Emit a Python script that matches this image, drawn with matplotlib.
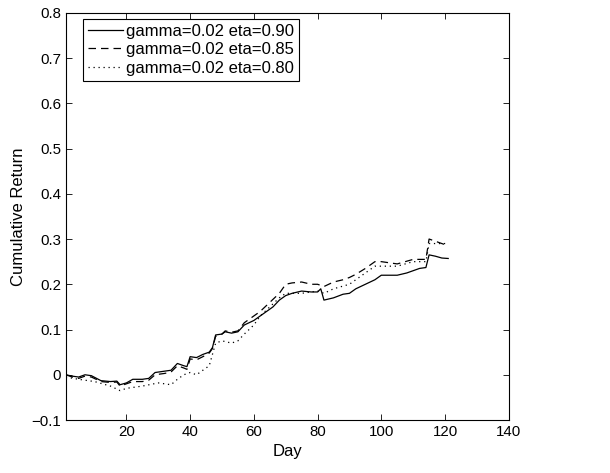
import matplotlib
matplotlib.use("Agg")
import matplotlib.pyplot as plt

days_a = [1, 3, 5, 7, 9, 12, 15, 17, 18, 20, 22, 25, 27, 29, 32, 34, 36, 38, 39, 40, 42, 44, 46, 47, 48, 50, 51, 53, 55, 57, 60, 62, 64, 66, 68, 70, 72, 75, 78, 80, 81, 82, 85, 88, 90, 92, 95, 98, 100, 105, 108, 112, 114, 115, 117, 119, 121]
ret_a = [0.0, -0.003, -0.005, 0.0, -0.002, -0.013, -0.015, -0.014, -0.022, -0.018, -0.01, -0.01, -0.008, 0.005, 0.008, 0.01, 0.025, 0.02, 0.018, 0.04, 0.038, 0.045, 0.05, 0.06, 0.088, 0.09, 0.095, 0.092, 0.095, 0.11, 0.12, 0.13, 0.14, 0.15, 0.165, 0.175, 0.18, 0.185, 0.183, 0.183, 0.19, 0.165, 0.17, 0.178, 0.18, 0.19, 0.2, 0.21, 0.22, 0.22, 0.225, 0.235, 0.237, 0.265, 0.262, 0.258, 0.257]

days_b = [1, 3, 5, 7, 9, 12, 15, 17, 18, 20, 22, 25, 27, 29, 32, 34, 36, 38, 39, 40, 42, 44, 46, 47, 48, 50, 51, 53, 55, 57, 60, 62, 65, 68, 70, 72, 75, 78, 80, 82, 85, 88, 90, 92, 95, 98, 100, 105, 110, 114, 115, 117, 119, 121]
ret_b = [0.0, -0.005, -0.008, -0.003, -0.005, -0.015, -0.017, -0.016, -0.025, -0.02, -0.015, -0.015, -0.012, 0.0, 0.003, 0.006, 0.02, 0.015, 0.012, 0.035, 0.033, 0.04, 0.048, 0.058, 0.085, 0.09, 0.097, 0.094, 0.097, 0.115, 0.13, 0.14, 0.16, 0.18, 0.2, 0.203, 0.205, 0.2, 0.2, 0.195, 0.205, 0.21, 0.215, 0.222, 0.235, 0.25, 0.25, 0.245, 0.255, 0.255, 0.3, 0.295, 0.29, 0.285]

days_c = [1, 5, 10, 15, 18, 20, 25, 30, 34, 36, 38, 40, 42, 44, 46, 47, 48, 50, 53, 55, 57, 60, 62, 65, 68, 70, 75, 80, 82, 85, 90, 95, 98, 100, 105, 110, 114, 115, 117, 121]
ret_c = [-0.005, -0.01, -0.015, -0.025, -0.035, -0.03, -0.025, -0.018, -0.022, -0.01, 0.0, 0.005, 0.0, 0.01, 0.02, 0.045, 0.07, 0.075, 0.07, 0.075, 0.09, 0.11, 0.13, 0.15, 0.17, 0.18, 0.18, 0.185, 0.18, 0.19, 0.2, 0.225, 0.24, 0.24, 0.24, 0.25, 0.25, 0.29, 0.29, 0.29]

labels = ["gamma=0.02 eta=0.90", "gamma=0.02 eta=0.85", "gamma=0.02 eta=0.80"]
xticks = [20, 40, 60, 80, 100, 120, 140]
yticks = [-0.1, 0, 0.1, 0.2, 0.3, 0.4, 0.5, 0.6, 0.7, 0.8]
ytick_labels = ["\u22120.1", "0", "0.1", "0.2", "0.3", "0.4", "0.5", "0.6", "0.7", "0.8"]

plt.rcParams['font.family'] = ['Liberation Sans', 'DejaVu Sans']
fig = plt.figure(figsize=(6.10, 4.73), dpi=100)
ax = fig.add_axes([0.108, 0.112, 0.726, 0.861])

ax.plot(days_a, ret_a, color='black', linestyle='-', linewidth=0.9, label=labels[0])
ax.plot(days_b, ret_b, color='black', linestyle=(0, (6, 4)), linewidth=0.9, label=labels[1])
ax.plot(days_c, ret_c, color='black', linestyle=(0, (1, 3)), linewidth=0.9, label=labels[2])

ax.set_xlim(1, 140)
ax.set_ylim(-0.1, 0.8)
ax.set_xticks(xticks)
ax.set_yticks(yticks)
ax.set_yticklabels(ytick_labels)
ax.tick_params(direction='in', top=True, right=True, labelsize=10.8, length=4, width=0.6)
for s in ax.spines.values():
    s.set_linewidth(0.8)
ax.set_xlabel("Day", fontsize=12)
ax.set_ylabel("Cumulative Return", fontsize=12)

leg = ax.legend(loc='upper left', bbox_to_anchor=(0.038, 0.985), fontsize=12,
                frameon=True, fancybox=False, edgecolor='black', framealpha=1,
                borderaxespad=0, handlelength=2.1, handletextpad=0.2,
                labelspacing=0.2, borderpad=0.3)
leg.get_frame().set_linewidth(0.8)

fig.savefig("out.png", dpi=100)
